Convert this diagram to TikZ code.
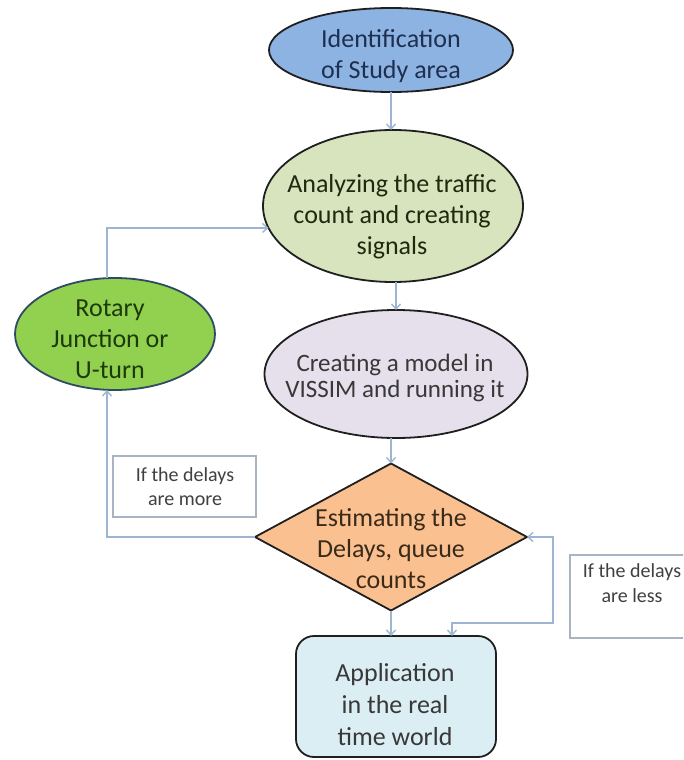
\documentclass[tikz,border=0pt]{standalone}
\usepackage{fontspec}
\setmainfont{Carlito}
\usetikzlibrary{shapes.geometric,arrows.meta,calc}
\definecolor{fillA}{HTML}{8DB3E2}
\definecolor{fillB}{HTML}{D7E4BD}
\definecolor{fillC}{HTML}{E5E0EC}
\definecolor{fillD}{HTML}{FAC090}
\definecolor{fillE}{HTML}{DBEEF4}
\definecolor{fillR}{HTML}{92D050}
\definecolor{textA}{HTML}{1F2F4F}
\definecolor{textB}{HTML}{22280F}
\definecolor{textC}{HTML}{383838}
\definecolor{textD}{HTML}{3A2A1A}
\definecolor{textR}{HTML}{1C3A0A}
\definecolor{textG}{HTML}{404040}
\definecolor{borderR}{HTML}{2F4B63}
\definecolor{lineblue}{HTML}{9EB5D2}
\definecolor{boxgray}{HTML}{A9B4C2}
\begin{document}
\begin{tikzpicture}[x=1pt,y=-1pt,
  shp/.style={draw=black!88, line width=1.8pt, inner sep=0pt, outer sep=0pt},
  ell/.style={shp, ellipse},
  maintext/.style={font=\fontsize{26}{31}\selectfont, align=center, inner sep=0pt},
  lbltext/.style={font=\fontsize{20}{24}\selectfont, align=center, inner sep=0pt, text=textG},
  lblbox/.style={draw=boxgray, line width=1.3pt, inner sep=0pt, fill=white},
  arr/.style={draw=lineblue, line width=1.4pt, -{Straight Barb[length=5pt,width=9pt]}},
  arrboth/.style={draw=lineblue, line width=1.4pt, {Straight Barb[length=5pt,width=9pt]}-{Straight Barb[length=5pt,width=9pt]}}
]
\useasboundingbox (0,0) rectangle (683,760);
\clip (0,0) rectangle (683,760);

% shapes
\node[ell, fill=fillA, minimum width=244, minimum height=84] (e1) at (391,50) {};
\node[ell, fill=fillB, minimum width=260, minimum height=152] (e2) at (393,206) {};
\node[ell, fill=fillC, minimum width=263, minimum height=128] (e3) at (396,374) {};
\node[shp, diamond, fill=fillD, minimum width=272, minimum height=147] (d) at (391,537) {};
\node[shp, rectangle, rounded corners=18pt, fill=fillE, minimum width=200, minimum height=121] (box) at (396,696.5) {};
\node[ell, draw=borderR, fill=fillR, minimum width=200, minimum height=112] (rot) at (115,334) {};
\node[lblbox, minimum width=143, minimum height=61] (lb1) at (184.5,486.5) {};
\node[lblbox, minimum width=128, minimum height=83] (lb2) at (634,596.5) {};

% texts
\node[maintext, text=textA] (t1) at (391,56) {Identification\\of Study area};
\node[maintext, text=textB] (t2) at (392,217) {Analyzing the traffic\\count and creating\\signals};
\node[maintext, text=textC, font=\fontsize{25}{26}\selectfont] (t3) at (395,378) {Creating a model in\\VISSIM and running it};
\node[maintext, text=textD] (t4) at (391,549) {Estimating the\\Delays, queue\\counts};
\node[maintext, text=textC, font=\fontsize{26}{32}\selectfont] (t5) at (395,705) {Application\\in the real\\time world};
\node[maintext, text=textR] (t6) at (110,339) {Rotary\\Junction or\\U-turn};
\node[lbltext] (t7) at (185,487) {If the delays\\are more};
\node[lbltext, font=\fontsize{20}{25}\selectfont] (t8) at (632,583) {If the delays\\are less};

% connectors
\coordinate (lx) at (107,0);
\coordinate (rc) at (553,623);
\coordinate (rx) at (452,0);
\draw[arr] (e1.south) -- (e1.south |- e2.north);
\draw[arr] (e3.north |- e2.south) -- (e3.north);
\draw[arr] (d.north |- e3.south) -- (d.north);
\draw[arr] (d.south) -- (d.south |- box.north);
\draw[arr] (rot.north -| lx) |- (e2.190);
\draw[arr] (d.west) -| (rot.south -| lx);
\draw[arrboth] (d.east) -| (rc) -| (box.north -| rx);
\end{tikzpicture}
\end{document}
